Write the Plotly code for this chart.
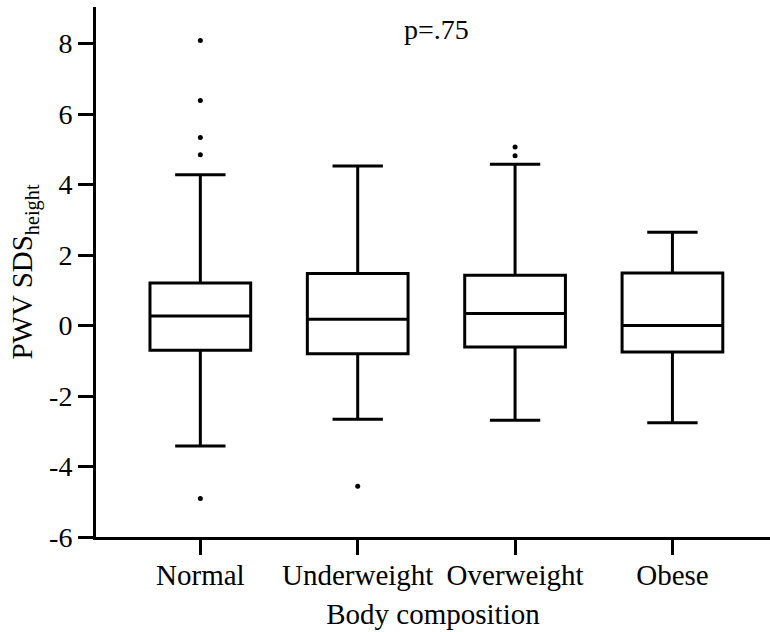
import plotly.graph_objects as go

# Box summary statistics per body-composition group
groups = ["Normal", "Underweight", "Overweight", "Obese"]
q1 = [-0.70, -0.80, -0.61, -0.75]
median = [0.27, 0.18, 0.34, 0.00]
q3 = [1.21, 1.48, 1.43, 1.49]
lower_fence = [-3.42, -2.66, -2.69, -2.76]
upper_fence = [4.28, 4.53, 4.58, 2.65]

# Outlying observations
outlier_group = ["Normal", "Normal", "Normal", "Normal", "Normal",
                 "Underweight", "Overweight", "Overweight"]
outlier_value = [8.09, 6.39, 5.34, 4.85, -4.91, -4.56, 5.07, 4.82]

y_ticks = [-6, -4, -2, 0, 2, 4, 6, 8]
y_tick_labels = ["-6", "-4", "-2", "0", "2", "4", "6", "8"]

FONT = "Liberation Serif"

fig = go.Figure()
fig.add_trace(go.Box(
    x=groups,
    q1=q1, median=median, q3=q3,
    lowerfence=lower_fence, upperfence=upper_fence,
    width=0.64,
    whiskerwidth=0.5,
    fillcolor="white",
    line=dict(color="black", width=3),
    boxpoints=False,
    showlegend=False,
))
fig.add_trace(go.Scatter(
    x=outlier_group, y=outlier_value,
    mode="markers",
    marker=dict(color="black", size=5),
    showlegend=False,
))

fig.add_annotation(
    text="p=.75", x=1.5, y=8.4, xref="x", yref="y",
    showarrow=False, font=dict(family=FONT, size=28, color="black"),
)

fig.update_layout(
    width=770, height=632,
    margin=dict(l=96, r=0, t=7, b=95),
    paper_bgcolor="white", plot_bgcolor="white",
    font=dict(family=FONT, size=24, color="black"),
    xaxis=dict(
        type="category",
        categoryorder="array", categoryarray=groups,
        range=[-0.663, 3.62],
        showline=True, linecolor="black", linewidth=3,
        ticks="outside", ticklen=15, tickwidth=3, tickcolor="black",
        ticklabelstandoff=-5,
        showgrid=False, zeroline=False,
        title=dict(text="Body composition", standoff=14,
                   font=dict(family=FONT, size=29, color="black")),
        tickfont=dict(family=FONT, size=29, color="black"),
    ),
    yaxis=dict(
        range=[-6, 9.04],
        tickvals=y_ticks, ticktext=y_tick_labels,
        showline=True, linecolor="black", linewidth=3,
        ticks="outside", ticklen=15, tickwidth=3, tickcolor="black",
        showgrid=False, zeroline=False,
        title=dict(text="PWV SDS<sub>height</sub>", standoff=8,
                   font=dict(family=FONT, size=29, color="black")),
        tickfont=dict(family=FONT, size=28, color="black"),
    ),
)

fig.write_html("out.html")
